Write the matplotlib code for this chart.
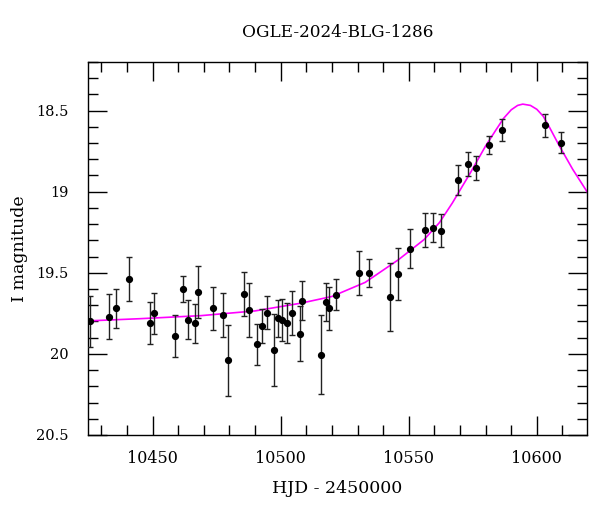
import matplotlib
matplotlib.use("Agg")
import matplotlib.pyplot as plt
from matplotlib.ticker import MultipleLocator

plt.rcParams['font.family'] = ['DejaVu Serif']

title = "OGLE-2024-BLG-1286"
xlabel = "HJD - 2450000"
ylabel = "I magnitude"

hjd = [10425.6, 10432.9, 10435.9, 10440.7, 10448.8, 10450.6, 10458.7, 10461.7,
       10463.9, 10466.7, 10467.9, 10473.6, 10477.5, 10479.6, 10485.7, 10487.7,
       10490.9, 10492.8, 10494.7, 10497.5, 10498.8, 10500.7, 10502.6, 10504.6,
       10507.5, 10508.5, 10515.6, 10517.7, 10518.8, 10521.7, 10530.5, 10534.4,
       10542.6, 10545.7, 10550.5, 10556.5, 10559.5, 10562.5, 10569.3, 10573.3,
       10576.3, 10581.4, 10586.3, 10603.3, 10609.4]
mag = [19.80, 19.77, 19.72, 19.54, 19.81, 19.75, 19.89, 19.60,
       19.79, 19.81, 19.62, 19.72, 19.76, 20.04, 19.63, 19.73,
       19.94, 19.83, 19.745, 19.976, 19.78, 19.79, 19.81, 19.75,
       19.875, 19.673, 20.005, 19.68, 19.72, 19.636, 19.50, 19.50,
       19.65, 19.51, 19.353, 19.235, 19.223, 19.24, 18.93, 18.83,
       18.855, 18.713, 18.62, 18.59, 18.697]
err = [0.16, 0.14, 0.12, 0.135, 0.13, 0.125, 0.127, 0.08,
       0.12, 0.12, 0.16, 0.13, 0.135, 0.22, 0.135, 0.166,
       0.127, 0.105, 0.10, 0.22, 0.115, 0.13, 0.125, 0.135,
       0.17, 0.12, 0.245, 0.115, 0.13, 0.095, 0.135, 0.085,
       0.21, 0.16, 0.12, 0.105, 0.09, 0.10, 0.092, 0.072,
       0.073, 0.055, 0.07, 0.07, 0.064]

model_t = [10424, 10445, 10469, 10490, 10508, 10520, 10533, 10546, 10556, 10562,
           10567, 10574, 10580, 10584, 10587, 10590, 10592.5, 10594.5, 10597.5,
           10600, 10602.5, 10605, 10608.8, 10614, 10620]
model_m = [19.797, 19.783, 19.764, 19.735, 19.687, 19.646, 19.559, 19.419, 19.295, 19.19,
           19.07, 18.885, 18.718, 18.62, 18.548, 18.495, 18.468, 18.46, 18.468,
           18.492, 18.535, 18.605, 18.718, 18.862, 19.01]

fig = plt.figure(figsize=(6.0, 5.12), dpi=100)
ax = fig.add_axes([0.1467, 0.1504, 0.8313, 0.7286])

ax.plot(model_t, model_m, color='#ff00ff', lw=1.2, zorder=2)
ax.errorbar(hjd, mag, yerr=err, fmt='o', color='black', ms=4.2,
            ecolor='#222222', elinewidth=1.0, capsize=2.4, capthick=1.0, zorder=3)

ax.set_xlim(10424.8, 10619.5)
ax.set_ylim(20.5, 18.2)
ax.xaxis.set_major_locator(MultipleLocator(50))
ax.xaxis.set_minor_locator(MultipleLocator(10))
ax.yaxis.set_minor_locator(MultipleLocator(0.1))
ax.set_yticks([18.5, 19, 19.5, 20, 20.5])
ax.set_yticklabels(['18.5', '19', '19.5', '20', '20.5'])

ax.tick_params(which='both', direction='in', top=True, right=True, width=1.0,
               color='black')
ax.tick_params(which='major', length=13.5)
ax.tick_params(which='minor', length=7)
ax.tick_params(axis='x', which='major', labelsize=11.5, pad=11)
ax.tick_params(axis='y', which='major', labelsize=10.5, pad=14)
for s in ax.spines.values():
    s.set_linewidth(1.0)

ax.set_title(title, fontsize=12.2, pad=18)
ax.set_xlabel(xlabel, fontsize=12.5, labelpad=9)
ax.set_ylabel(ylabel, fontsize=12.5, labelpad=6)

fig.savefig("out.png", dpi=100)
